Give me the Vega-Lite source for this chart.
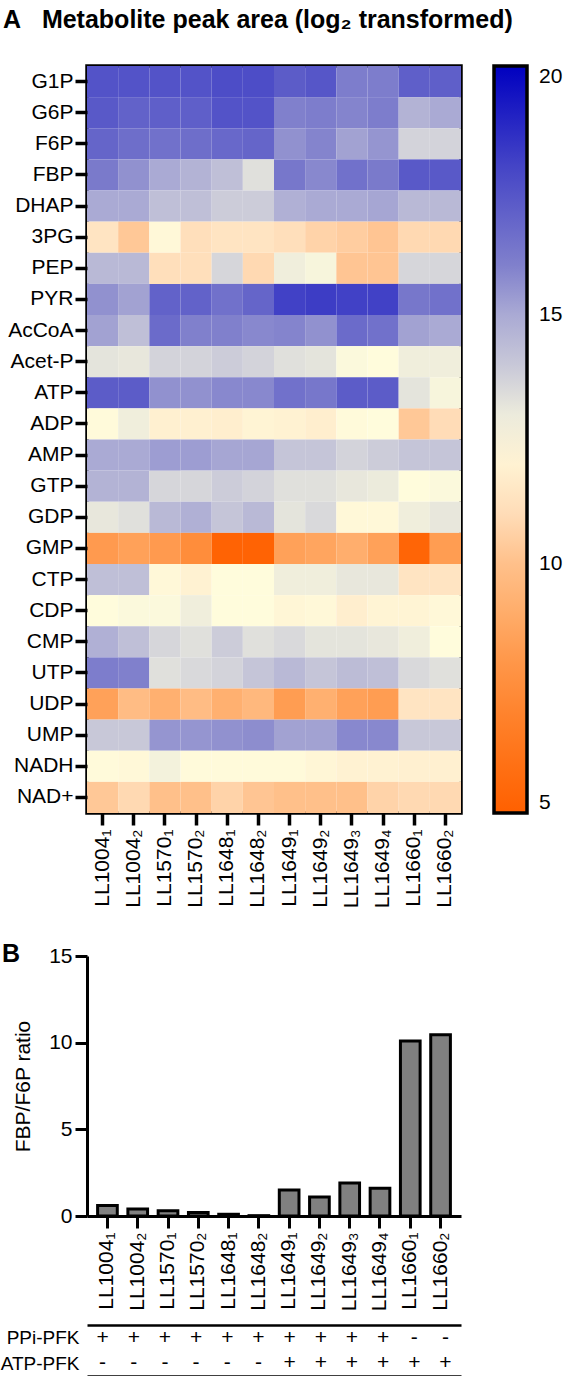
{
"$schema": "https://vega.github.io/schema/vega-lite/v6.json",
"background": "white",
"padding": {"left": 0, "top": 6, "right": 0, "bottom": 0},
"config": {
  "font": "Liberation Sans",
  "view": {"stroke": null},
  "axis": {"labelColor": "black", "tickColor": "black", "domainColor": "black", "titleColor": "black", "grid": false, "labelFont": "Liberation Sans", "titleFont": "Liberation Sans"},
  "title": {"color": "black", "font": "Liberation Sans"},
  "legend": {"labelColor": "black", "labelFont": "Liberation Sans"}
},
"bounds": "flush",
"spacing": 143,
"vconcat": [
{
  "title": {"text": "A\u00a0\u00a0\u00a0Metabolite peak area (log₂ transformed)", "anchor": "start", "frame": "group", "dx": -84, "fontSize": 25, "fontWeight": "bold", "offset": 13, "baseline": "alphabetic"},
  "width": 374,
  "height": 747,
  "view": {"stroke": "black", "strokeWidth": 3.5},
  "data": {"values": [
{"m":"G1P","s":"LL1004₁","v":17.5},{"m":"G1P","s":"LL1004₂","v":17.5},{"m":"G1P","s":"LL1570₁","v":17.5},{"m":"G1P","s":"LL1570₂","v":17.5},{"m":"G1P","s":"LL1648₁","v":17.7},{"m":"G1P","s":"LL1648₂","v":17.7},{"m":"G1P","s":"LL1649₁","v":17.2},{"m":"G1P","s":"LL1649₂","v":17.4},{"m":"G1P","s":"LL1649₃","v":16.1},{"m":"G1P","s":"LL1649₄","v":16.1},{"m":"G1P","s":"LL1660₁","v":17.1},{"m":"G1P","s":"LL1660₂","v":17.1},
{"m":"G6P","s":"LL1004₁","v":17.3},{"m":"G6P","s":"LL1004₂","v":17.0},{"m":"G6P","s":"LL1570₁","v":17.1},{"m":"G6P","s":"LL1570₂","v":17.1},{"m":"G6P","s":"LL1648₁","v":17.5},{"m":"G6P","s":"LL1648₂","v":17.5},{"m":"G6P","s":"LL1649₁","v":16.0},{"m":"G6P","s":"LL1649₂","v":16.1},{"m":"G6P","s":"LL1649₃","v":15.9},{"m":"G6P","s":"LL1649₄","v":16.1},{"m":"G6P","s":"LL1660₁","v":14.7},{"m":"G6P","s":"LL1660₂","v":15.0},
{"m":"F6P","s":"LL1004₁","v":16.9},{"m":"F6P","s":"LL1004₂","v":16.6},{"m":"F6P","s":"LL1570₁","v":16.5},{"m":"F6P","s":"LL1570₂","v":16.6},{"m":"F6P","s":"LL1648₁","v":16.8},{"m":"F6P","s":"LL1648₂","v":16.9},{"m":"F6P","s":"LL1649₁","v":15.6},{"m":"F6P","s":"LL1649₂","v":15.9},{"m":"F6P","s":"LL1649₃","v":15.2},{"m":"F6P","s":"LL1649₄","v":15.5},{"m":"F6P","s":"LL1660₁","v":13.7},{"m":"F6P","s":"LL1660₂","v":13.7},
{"m":"FBP","s":"LL1004₁","v":16.2},{"m":"FBP","s":"LL1004₂","v":15.6},{"m":"FBP","s":"LL1570₁","v":15.0},{"m":"FBP","s":"LL1570₂","v":14.7},{"m":"FBP","s":"LL1648₁","v":14.3},{"m":"FBP","s":"LL1648₂","v":13.3},{"m":"FBP","s":"LL1649₁","v":16.3},{"m":"FBP","s":"LL1649₂","v":15.8},{"m":"FBP","s":"LL1649₃","v":16.5},{"m":"FBP","s":"LL1649₄","v":16.2},{"m":"FBP","s":"LL1660₁","v":17.3},{"m":"FBP","s":"LL1660₂","v":17.3},
{"m":"DHAP","s":"LL1004₁","v":15.0},{"m":"DHAP","s":"LL1004₂","v":15.0},{"m":"DHAP","s":"LL1570₁","v":14.3},{"m":"DHAP","s":"LL1570₂","v":14.3},{"m":"DHAP","s":"LL1648₁","v":13.9},{"m":"DHAP","s":"LL1648₂","v":13.9},{"m":"DHAP","s":"LL1649₁","v":14.8},{"m":"DHAP","s":"LL1649₂","v":15.0},{"m":"DHAP","s":"LL1649₃","v":15.0},{"m":"DHAP","s":"LL1649₄","v":15.1},{"m":"DHAP","s":"LL1660₁","v":14.5},{"m":"DHAP","s":"LL1660₂","v":14.5},
{"m":"3PG","s":"LL1004₁","v":11.3},{"m":"3PG","s":"LL1004₂","v":10.3},{"m":"3PG","s":"LL1570₁","v":12.3},{"m":"3PG","s":"LL1570₂","v":11.1},{"m":"3PG","s":"LL1648₁","v":11.3},{"m":"3PG","s":"LL1648₂","v":11.3},{"m":"3PG","s":"LL1649₁","v":11.1},{"m":"3PG","s":"LL1649₂","v":10.7},{"m":"3PG","s":"LL1649₃","v":10.5},{"m":"3PG","s":"LL1649₄","v":10.2},{"m":"3PG","s":"LL1660₁","v":10.9},{"m":"3PG","s":"LL1660₂","v":10.9},
{"m":"PEP","s":"LL1004₁","v":14.5},{"m":"PEP","s":"LL1004₂","v":14.5},{"m":"PEP","s":"LL1570₁","v":11.1},{"m":"PEP","s":"LL1570₂","v":11.1},{"m":"PEP","s":"LL1648₁","v":13.6},{"m":"PEP","s":"LL1648₂","v":10.9},{"m":"PEP","s":"LL1649₁","v":12.9},{"m":"PEP","s":"LL1649₂","v":12.7},{"m":"PEP","s":"LL1649₃","v":10.2},{"m":"PEP","s":"LL1649₄","v":10.2},{"m":"PEP","s":"LL1660₁","v":13.6},{"m":"PEP","s":"LL1660₂","v":13.6},
{"m":"PYR","s":"LL1004₁","v":15.6},{"m":"PYR","s":"LL1004₂","v":15.2},{"m":"PYR","s":"LL1570₁","v":17.0},{"m":"PYR","s":"LL1570₂","v":17.0},{"m":"PYR","s":"LL1648₁","v":16.5},{"m":"PYR","s":"LL1648₂","v":16.9},{"m":"PYR","s":"LL1649₁","v":18.1},{"m":"PYR","s":"LL1649₂","v":18.2},{"m":"PYR","s":"LL1649₃","v":18.1},{"m":"PYR","s":"LL1649₄","v":18.1},{"m":"PYR","s":"LL1660₁","v":16.3},{"m":"PYR","s":"LL1660₂","v":16.5},
{"m":"AcCoA","s":"LL1004₁","v":15.2},{"m":"AcCoA","s":"LL1004₂","v":14.3},{"m":"AcCoA","s":"LL1570₁","v":16.7},{"m":"AcCoA","s":"LL1570₂","v":16.0},{"m":"AcCoA","s":"LL1648₁","v":16.0},{"m":"AcCoA","s":"LL1648₂","v":15.8},{"m":"AcCoA","s":"LL1649₁","v":15.9},{"m":"AcCoA","s":"LL1649₂","v":15.6},{"m":"AcCoA","s":"LL1649₃","v":16.7},{"m":"AcCoA","s":"LL1649₄","v":16.5},{"m":"AcCoA","s":"LL1660₁","v":15.2},{"m":"AcCoA","s":"LL1660₂","v":15.0},
{"m":"Acet-P","s":"LL1004₁","v":13.2},{"m":"Acet-P","s":"LL1004₂","v":13.1},{"m":"Acet-P","s":"LL1570₁","v":13.7},{"m":"Acet-P","s":"LL1570₂","v":13.7},{"m":"Acet-P","s":"LL1648₁","v":13.9},{"m":"Acet-P","s":"LL1648₂","v":13.7},{"m":"Acet-P","s":"LL1649₁","v":13.3},{"m":"Acet-P","s":"LL1649₂","v":13.2},{"m":"Acet-P","s":"LL1649₃","v":12.6},{"m":"Acet-P","s":"LL1649₄","v":12.5},{"m":"Acet-P","s":"LL1660₁","v":12.9},{"m":"Acet-P","s":"LL1660₂","v":12.9},
{"m":"ATP","s":"LL1004₁","v":17.2},{"m":"ATP","s":"LL1004₂","v":17.2},{"m":"ATP","s":"LL1570₁","v":15.6},{"m":"ATP","s":"LL1570₂","v":15.6},{"m":"ATP","s":"LL1648₁","v":15.8},{"m":"ATP","s":"LL1648₂","v":15.8},{"m":"ATP","s":"LL1649₁","v":16.5},{"m":"ATP","s":"LL1649₂","v":16.3},{"m":"ATP","s":"LL1649₃","v":17.2},{"m":"ATP","s":"LL1649₄","v":17.2},{"m":"ATP","s":"LL1660₁","v":13.2},{"m":"ATP","s":"LL1660₂","v":12.7},
{"m":"ADP","s":"LL1004₁","v":12.4},{"m":"ADP","s":"LL1004₂","v":12.9},{"m":"ADP","s":"LL1570₁","v":11.9},{"m":"ADP","s":"LL1570₂","v":11.9},{"m":"ADP","s":"LL1648₁","v":11.8},{"m":"ADP","s":"LL1648₂","v":12.1},{"m":"ADP","s":"LL1649₁","v":12.0},{"m":"ADP","s":"LL1649₂","v":11.8},{"m":"ADP","s":"LL1649₃","v":12.4},{"m":"ADP","s":"LL1649₄","v":12.5},{"m":"ADP","s":"LL1660₁","v":10.3},{"m":"ADP","s":"LL1660₂","v":11.0},
{"m":"AMP","s":"LL1004₁","v":15.0},{"m":"AMP","s":"LL1004₂","v":15.0},{"m":"AMP","s":"LL1570₁","v":15.3},{"m":"AMP","s":"LL1570₂","v":15.3},{"m":"AMP","s":"LL1648₁","v":15.1},{"m":"AMP","s":"LL1648₂","v":15.1},{"m":"AMP","s":"LL1649₁","v":14.1},{"m":"AMP","s":"LL1649₂","v":14.1},{"m":"AMP","s":"LL1649₃","v":13.7},{"m":"AMP","s":"LL1649₄","v":13.9},{"m":"AMP","s":"LL1660₁","v":14.1},{"m":"AMP","s":"LL1660₂","v":14.1},
{"m":"GTP","s":"LL1004₁","v":14.7},{"m":"GTP","s":"LL1004₂","v":14.7},{"m":"GTP","s":"LL1570₁","v":13.6},{"m":"GTP","s":"LL1570₂","v":13.6},{"m":"GTP","s":"LL1648₁","v":13.9},{"m":"GTP","s":"LL1648₂","v":13.7},{"m":"GTP","s":"LL1649₁","v":13.3},{"m":"GTP","s":"LL1649₂","v":13.3},{"m":"GTP","s":"LL1649₃","v":13.1},{"m":"GTP","s":"LL1649₄","v":13.0},{"m":"GTP","s":"LL1660₁","v":12.5},{"m":"GTP","s":"LL1660₂","v":12.6},
{"m":"GDP","s":"LL1004₁","v":13.1},{"m":"GDP","s":"LL1004₂","v":13.3},{"m":"GDP","s":"LL1570₁","v":14.5},{"m":"GDP","s":"LL1570₂","v":14.8},{"m":"GDP","s":"LL1648₁","v":14.1},{"m":"GDP","s":"LL1648₂","v":14.5},{"m":"GDP","s":"LL1649₁","v":13.2},{"m":"GDP","s":"LL1649₂","v":13.5},{"m":"GDP","s":"LL1649₃","v":12.3},{"m":"GDP","s":"LL1649₄","v":12.3},{"m":"GDP","s":"LL1660₁","v":12.9},{"m":"GDP","s":"LL1660₂","v":13.1},
{"m":"GMP","s":"LL1004₁","v":8.2},{"m":"GMP","s":"LL1004₂","v":8.5},{"m":"GMP","s":"LL1570₁","v":8.2},{"m":"GMP","s":"LL1570₂","v":7.5},{"m":"GMP","s":"LL1648₁","v":5.2},{"m":"GMP","s":"LL1648₂","v":5.2},{"m":"GMP","s":"LL1649₁","v":8.5},{"m":"GMP","s":"LL1649₂","v":8.7},{"m":"GMP","s":"LL1649₃","v":9.1},{"m":"GMP","s":"LL1649₄","v":8.5},{"m":"GMP","s":"LL1660₁","v":5.3},{"m":"GMP","s":"LL1660₂","v":8.3},
{"m":"CTP","s":"LL1004₁","v":14.3},{"m":"CTP","s":"LL1004₂","v":14.3},{"m":"CTP","s":"LL1570₁","v":12.3},{"m":"CTP","s":"LL1570₂","v":12.0},{"m":"CTP","s":"LL1648₁","v":12.5},{"m":"CTP","s":"LL1648₂","v":12.5},{"m":"CTP","s":"LL1649₁","v":12.9},{"m":"CTP","s":"LL1649₂","v":12.9},{"m":"CTP","s":"LL1649₃","v":13.1},{"m":"CTP","s":"LL1649₄","v":13.1},{"m":"CTP","s":"LL1660₁","v":11.3},{"m":"CTP","s":"LL1660₂","v":11.3},
{"m":"CDP","s":"LL1004₁","v":12.5},{"m":"CDP","s":"LL1004₂","v":12.6},{"m":"CDP","s":"LL1570₁","v":12.6},{"m":"CDP","s":"LL1570₂","v":12.9},{"m":"CDP","s":"LL1648₁","v":12.5},{"m":"CDP","s":"LL1648₂","v":12.5},{"m":"CDP","s":"LL1649₁","v":12.2},{"m":"CDP","s":"LL1649₂","v":12.3},{"m":"CDP","s":"LL1649₃","v":11.8},{"m":"CDP","s":"LL1649₄","v":12.1},{"m":"CDP","s":"LL1660₁","v":12.1},{"m":"CDP","s":"LL1660₂","v":12.3},
{"m":"CMP","s":"LL1004₁","v":14.8},{"m":"CMP","s":"LL1004₂","v":14.3},{"m":"CMP","s":"LL1570₁","v":13.6},{"m":"CMP","s":"LL1570₂","v":13.3},{"m":"CMP","s":"LL1648₁","v":13.9},{"m":"CMP","s":"LL1648₂","v":13.3},{"m":"CMP","s":"LL1649₁","v":13.5},{"m":"CMP","s":"LL1649₂","v":13.2},{"m":"CMP","s":"LL1649₃","v":13.2},{"m":"CMP","s":"LL1649₄","v":13.1},{"m":"CMP","s":"LL1660₁","v":12.9},{"m":"CMP","s":"LL1660₂","v":12.5},
{"m":"UTP","s":"LL1004₁","v":16.1},{"m":"UTP","s":"LL1004₂","v":16.0},{"m":"UTP","s":"LL1570₁","v":13.3},{"m":"UTP","s":"LL1570₂","v":13.5},{"m":"UTP","s":"LL1648₁","v":13.7},{"m":"UTP","s":"LL1648₂","v":14.1},{"m":"UTP","s":"LL1649₁","v":14.5},{"m":"UTP","s":"LL1649₂","v":14.1},{"m":"UTP","s":"LL1649₃","v":14.4},{"m":"UTP","s":"LL1649₄","v":14.3},{"m":"UTP","s":"LL1660₁","v":13.5},{"m":"UTP","s":"LL1660₂","v":13.3},
{"m":"UDP","s":"LL1004₁","v":8.5},{"m":"UDP","s":"LL1004₂","v":9.8},{"m":"UDP","s":"LL1570₁","v":9.2},{"m":"UDP","s":"LL1570₂","v":9.8},{"m":"UDP","s":"LL1648₁","v":9.2},{"m":"UDP","s":"LL1648₂","v":9.6},{"m":"UDP","s":"LL1649₁","v":8.3},{"m":"UDP","s":"LL1649₂","v":9.2},{"m":"UDP","s":"LL1649₃","v":8.5},{"m":"UDP","s":"LL1649₄","v":8.3},{"m":"UDP","s":"LL1660₁","v":11.3},{"m":"UDP","s":"LL1660₂","v":11.3},
{"m":"UMP","s":"LL1004₁","v":14.0},{"m":"UMP","s":"LL1004₂","v":14.0},{"m":"UMP","s":"LL1570₁","v":15.5},{"m":"UMP","s":"LL1570₂","v":15.5},{"m":"UMP","s":"LL1648₁","v":15.6},{"m":"UMP","s":"LL1648₂","v":15.7},{"m":"UMP","s":"LL1649₁","v":15.2},{"m":"UMP","s":"LL1649₂","v":15.2},{"m":"UMP","s":"LL1649₃","v":15.8},{"m":"UMP","s":"LL1649₄","v":15.8},{"m":"UMP","s":"LL1660₁","v":14.0},{"m":"UMP","s":"LL1660₂","v":14.0},
{"m":"NADH","s":"LL1004₁","v":12.4},{"m":"NADH","s":"LL1004₂","v":12.3},{"m":"NADH","s":"LL1570₁","v":12.8},{"m":"NADH","s":"LL1570₂","v":12.4},{"m":"NADH","s":"LL1648₁","v":12.4},{"m":"NADH","s":"LL1648₂","v":12.4},{"m":"NADH","s":"LL1649₁","v":12.4},{"m":"NADH","s":"LL1649₂","v":12.2},{"m":"NADH","s":"LL1649₃","v":12.0},{"m":"NADH","s":"LL1649₄","v":12.0},{"m":"NADH","s":"LL1660₁","v":11.9},{"m":"NADH","s":"LL1660₂","v":11.9},
{"m":"NAD+","s":"LL1004₁","v":10.3},{"m":"NAD+","s":"LL1004₂","v":10.9},{"m":"NAD+","s":"LL1570₁","v":10.0},{"m":"NAD+","s":"LL1570₂","v":10.0},{"m":"NAD+","s":"LL1648₁","v":10.7},{"m":"NAD+","s":"LL1648₂","v":10.2},{"m":"NAD+","s":"LL1649₁","v":10.0},{"m":"NAD+","s":"LL1649₂","v":10.0},{"m":"NAD+","s":"LL1649₃","v":10.0},{"m":"NAD+","s":"LL1649₄","v":10.7},{"m":"NAD+","s":"LL1660₁","v":10.9},{"m":"NAD+","s":"LL1660₂","v":10.9}
  ]},
  "mark": "rect",
  "encoding": {
    "x": {"field": "s", "type": "nominal", "sort": ["LL1004₁","LL1004₂","LL1570₁","LL1570₂","LL1648₁","LL1648₂","LL1649₁","LL1649₂","LL1649₃","LL1649₄","LL1660₁","LL1660₂"], "scale": {"padding": 0},
      "axis": {"title": null, "domain": false, "tickSize": 12, "tickWidth": 3.5, "labelFontSize": 21, "labelAngle": -90, "labelPadding": 4}},
    "y": {"field": "m", "type": "nominal", "sort": ["G1P","G6P","F6P","FBP","DHAP","3PG","PEP","PYR","AcCoA","Acet-P","ATP","ADP","AMP","GTP","GDP","GMP","CTP","CDP","CMP","UTP","UDP","UMP","NADH","NAD+"], "scale": {"padding": 0},
      "axis": {"title": null, "domain": false, "tickSize": 12, "tickWidth": 3.5, "labelFontSize": 21, "labelPadding": 2}},
    "color": {"field": "v", "type": "quantitative",
      "scale": {"domain": [5, 6.5, 8, 9.2, 10, 10.6, 11.2, 11.9, 12.5, 13.2, 14, 15, 16, 18, 20],
                "range": ["#FF6000","#FF7A20","#FF9648","#FFB070","#FFC08A","#FFD0A4","#FFE2C0","#FFF0D0","#FFFCDC","#E4E4DC","#C8C8D8","#AAAAD4","#8080CC","#4444C6","#0000C0"],
                "interpolate": "rgb", "nice": false, "zero": false},
      "legend": {"title": null, "orient": "none", "legendX": 407, "legendY": 0, "padding": 0, "direction": "vertical", "gradientLength": 747, "gradientThickness": 33, "gradientStrokeColor": "black", "gradientStrokeWidth": 3.5, "values": [5, 10, 15, 20], "labelFontSize": 21, "labelOffset": 12, "labelBaseline": "middle", "labelOverlap": false}}
  }
},
{
  "bounds": "flush",
  "spacing": 109,
  "vconcat": [
    {
      "title": {"text": "B", "anchor": "start", "frame": "group", "dx": -85, "fontSize": 25, "fontWeight": "bold", "offset": -42, "baseline": "alphabetic"},
      "width": 374,
      "height": 260,
      "data": {"values": [
        {"s":"LL1004₁","r":0.6},{"s":"LL1004₂","r":0.4},{"s":"LL1570₁","r":0.3},{"s":"LL1570₂","r":0.2},{"s":"LL1648₁","r":0.1},{"s":"LL1648₂","r":0.02},
        {"s":"LL1649₁","r":1.5},{"s":"LL1649₂","r":1.1},{"s":"LL1649₃","r":1.9},{"s":"LL1649₄","r":1.6},{"s":"LL1660₁","r":10.1},{"s":"LL1660₂","r":10.45}
      ]},
      "mark": {"type": "bar", "fill": "#808080", "stroke": "black", "strokeWidth": 3},
      "encoding": {
        "x": {"field": "s", "type": "nominal", "sort": ["LL1004₁","LL1004₂","LL1570₁","LL1570₂","LL1648₁","LL1648₂","LL1649₁","LL1649₂","LL1649₃","LL1649₄","LL1660₁","LL1660₂"], "scale": {"paddingInner": 0.35, "paddingOuter": 0.35},
          "axis": {"title": null, "labelAngle": -90, "labelFontSize": 21, "tickSize": 12, "tickWidth": 3, "domainWidth": 3, "labelPadding": 4}},
        "y": {"field": "r", "type": "quantitative", "scale": {"domain": [0, 15], "nice": false},
          "axis": {"values": [0, 5, 10, 15], "title": "FBP/F6P ratio", "titleFontSize": 21, "titleFontWeight": "normal", "tickSize": 12, "tickWidth": 3, "domainWidth": 3, "labelFontSize": 21, "labelPadding": 3, "titlePadding": 15}}
      }
    },
    {
      "width": 374,
      "height": 51,
      "data": {"values": [
        {"s":"LL1004₁","g":"PPi-PFK","t":"+"},{"s":"LL1004₂","g":"PPi-PFK","t":"+"},{"s":"LL1570₁","g":"PPi-PFK","t":"+"},{"s":"LL1570₂","g":"PPi-PFK","t":"+"},{"s":"LL1648₁","g":"PPi-PFK","t":"+"},{"s":"LL1648₂","g":"PPi-PFK","t":"+"},
        {"s":"LL1649₁","g":"PPi-PFK","t":"+"},{"s":"LL1649₂","g":"PPi-PFK","t":"+"},{"s":"LL1649₃","g":"PPi-PFK","t":"+"},{"s":"LL1649₄","g":"PPi-PFK","t":"+"},{"s":"LL1660₁","g":"PPi-PFK","t":"-"},{"s":"LL1660₂","g":"PPi-PFK","t":"-"},
        {"s":"LL1004₁","g":"ATP-PFK","t":"-"},{"s":"LL1004₂","g":"ATP-PFK","t":"-"},{"s":"LL1570₁","g":"ATP-PFK","t":"-"},{"s":"LL1570₂","g":"ATP-PFK","t":"-"},{"s":"LL1648₁","g":"ATP-PFK","t":"-"},{"s":"LL1648₂","g":"ATP-PFK","t":"-"},
        {"s":"LL1649₁","g":"ATP-PFK","t":"+"},{"s":"LL1649₂","g":"ATP-PFK","t":"+"},{"s":"LL1649₃","g":"ATP-PFK","t":"+"},{"s":"LL1649₄","g":"ATP-PFK","t":"+"},{"s":"LL1660₁","g":"ATP-PFK","t":"+"},{"s":"LL1660₂","g":"ATP-PFK","t":"+"}
      ]},
      "layer": [
        {
          "mark": {"type": "text", "fontSize": 21, "color": "black", "baseline": "middle"},
          "encoding": {
            "x": {"field": "s", "type": "nominal", "sort": ["LL1004₁","LL1004₂","LL1570₁","LL1570₂","LL1648₁","LL1648₂","LL1649₁","LL1649₂","LL1649₃","LL1649₄","LL1660₁","LL1660₂"], "scale": {"paddingInner": 0.35, "paddingOuter": 0.35},
              "axis": {"orient": "top", "title": null, "labels": false, "ticks": false, "domainWidth": 2.5}},
            "y": {"field": "g", "type": "nominal", "sort": ["PPi-PFK", "ATP-PFK"], "scale": {"paddingInner": 0, "paddingOuter": 0.11},
              "axis": {"title": null, "domain": false, "ticks": false, "labelFontSize": 19, "labelPadding": 8}},
            "text": {"field": "t"}
          }
        },
        {
          "mark": {"type": "point", "opacity": 0},
          "encoding": {
            "x": {"field": "s", "type": "nominal", "sort": ["LL1004₁","LL1004₂","LL1570₁","LL1570₂","LL1648₁","LL1648₂","LL1649₁","LL1649₂","LL1649₃","LL1649₄","LL1660₁","LL1660₂"],
              "axis": {"orient": "bottom", "title": null, "labels": false, "ticks": false, "domainWidth": 2.5}}
          }
        }
      ],
      "resolve": {"axis": {"x": "independent"}}
    }
  ]
}
]
}
